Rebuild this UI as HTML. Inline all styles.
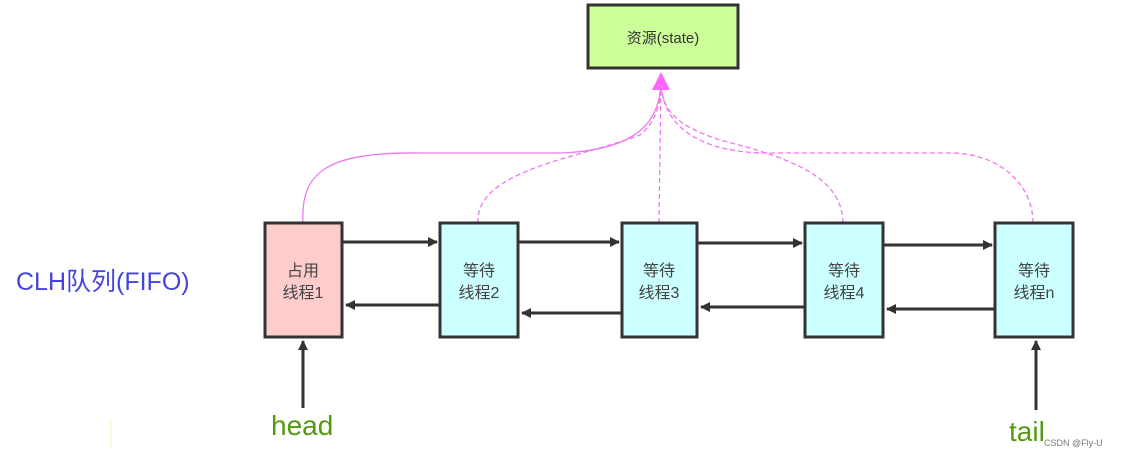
<!DOCTYPE html>
<html><head><meta charset="utf-8"><style>
body{margin:0;background:#fff;width:1123px;height:457px;overflow:hidden}
svg text{font-family:"Liberation Sans","Noto Sans CJK SC",sans-serif}
</style></head><body>
<svg width="1123" height="457" viewBox="0 0 1123 457" xmlns="http://www.w3.org/2000/svg">
<defs>
<marker id="a" markerWidth="10" markerHeight="10" refX="9" refY="5" orient="auto" markerUnits="userSpaceOnUse" viewBox="0 0 10 10"><path d="M0,0 L10,5 L0,10 z" fill="#333"/></marker>
</defs>
<rect x="588" y="5" width="150" height="63" fill="#ccff99" stroke="#333" stroke-width="3"/>
<text x="663" y="43" font-size="15" text-anchor="middle" fill="#333">资源(state)</text>
<g fill="none" stroke="#ee77ee" stroke-width="1.3">
<path d="M303,223 C300,170 330,152 420,153 L560,153 C640,150 660,120 661,82"/>
<path d="M478,223 C475,170 580,158 640,135 C658,120 661,100 661,82" stroke-dasharray="5,3"/>
<path d="M659,223 L661,82" stroke-dasharray="5,3"/>
<path d="M843,223 C842,180 800,160 720,140 C675,125 662,110 661,82" stroke-dasharray="5,3"/>
<path d="M1033,223 C1033,185 1000,153 950,153 L760,153 C690,150 662,120 661,82" stroke-dasharray="5,3"/>
</g>
<path d="M652,90 L661,72 L670,90 z" fill="#ff66ff"/>
<g stroke="#333" stroke-width="3">
<rect x="265" y="223" width="77" height="114" fill="#ffcccc"/>
<rect x="440" y="223" width="78" height="114" fill="#ccffff"/>
<rect x="622" y="223" width="75" height="114" fill="#ccffff"/>
<rect x="805" y="223" width="78" height="114" fill="#ccffff"/>
<rect x="995" y="223" width="78" height="114" fill="#ccffff"/>
</g>
<g stroke="#333" stroke-width="3" marker-end="url(#a)" fill="none">
<line x1="343" y1="242" x2="437" y2="242"/>
<line x1="519" y1="242" x2="619" y2="242"/>
<line x1="698" y1="243" x2="802" y2="243"/>
<line x1="884" y1="245" x2="992" y2="245"/>
<line x1="439" y1="305" x2="346" y2="305"/>
<line x1="621" y1="313" x2="522" y2="313"/>
<line x1="804" y1="307" x2="701" y2="307"/>
<line x1="994" y1="309" x2="887" y2="309"/>
<line x1="303" y1="408" x2="303" y2="341"/>
<line x1="1036" y1="410" x2="1036" y2="341"/>
</g>
<g font-size="16" fill="#444" text-anchor="middle">
<text x="303" y="276">占用</text><text x="303" y="298">线程1</text>
<text x="479" y="276">等待</text><text x="479" y="298">线程2</text>
<text x="659" y="276">等待</text><text x="659" y="298">线程3</text>
<text x="844" y="276">等待</text><text x="844" y="298">线程4</text>
<text x="1034" y="276">等待</text><text x="1034" y="298">线程n</text>
</g>
<text x="16" y="290" font-size="25" fill="#4444dd">CLH队列(FIFO)</text>
<text x="271" y="435" font-size="28" fill="#559911">head</text>
<text x="1009" y="441" font-size="28" fill="#559911">tail</text>
<text x="1044" y="446" font-size="9" fill="#777">CSDN @Fly-U</text>
<line x1="111" y1="419" x2="111" y2="448" stroke="#fff0a0" stroke-width="1"/>
</svg>
</body></html>
